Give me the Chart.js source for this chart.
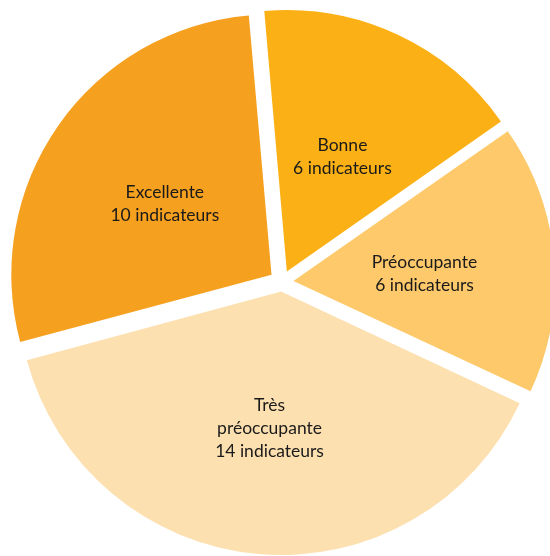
<!DOCTYPE html>
<html>
<head>
<meta charset="utf-8">
<script src="https://cdn.jsdelivr.net/npm/chart.js@4"></script>
<style>
  html, body { margin: 0; padding: 0; background: #fff; }
  #wrap { width: 550px; height: 556px; }
</style>
</head>
<body>
<div id="wrap"><canvas id="pieChart"></canvas></div>
<script>
// ================= DATA =================
const categories = ["Bonne", "Préoccupante", "Très préoccupante", "Excellente"];
const labelLines = [["Bonne"], ["Préoccupante"], ["Très", "préoccupante"], ["Excellente"]];
const counts = [6, 6, 14, 10];
const colors = ["#FBB116", "#FEC96B", "#FDE0B0", "#F6A01F"];

const EXPLODE = 13; // px each slice is pulled out

// Chart.js moves an arc by offset/4 * (1 + (1 - sin(angle))), so work back from the wanted px
function arcOffset(ctx) {
    const total = counts.reduce((a, b) => a + b, 0);
    const circ = counts[ctx.dataIndex] / total * Math.PI * 2;
    const fix = 1 - Math.sin(Math.min(Math.PI, circ));
    return EXPLODE * 4 / (1 + fix);
}

// draws the text inside each slice
const sliceLabels = {
    id: "sliceLabels",
    afterDatasetsDraw(chart) {
        const ctx = chart.ctx;
        const arcs = chart.getDatasetMeta(0).data;
        ctx.save();
        ctx.font = "17.5px Lato, 'Open Sans', sans-serif";
        ctx.fillStyle = "#1a1a1a";
        ctx.textAlign = "center";
        ctx.textBaseline = "middle";
        arcs.forEach((arc, i) => {
            const mid = (arc.startAngle + arc.endAngle) / 2;
            const r = arc.outerRadius * 0.5 + EXPLODE;
            const x = arc.x + Math.cos(mid) * r;
            const y = arc.y + Math.sin(mid) * r + 4;
            const lines = labelLines[i].concat([counts[i] + " indicateurs"]);
            const lh = 23;
            lines.forEach((t, j) => {
                ctx.fillText(t, x, y + (j - (lines.length - 1) / 2) * lh);
            });
        });
        ctx.restore();
    }
};

new Chart(document.getElementById("pieChart"), {
    type: "pie",
    data: {
        labels: categories,
        datasets: [{
            data: counts,
            backgroundColor: colors,
            borderWidth: 0,
            offset: arcOffset,
            clip: false
        }]
    },
    options: {
        responsive: true,
        maintainAspectRatio: false,
        animation: false,
        rotation: -5,
        radius: 260,
        layout: { padding: { left: 14, top: 8, right: 0, bottom: 0 } },
        plugins: {
            legend: { display: false },
            tooltip: { enabled: false }
        }
    },
    plugins: [sliceLabels]
});
</script>
</body>
</html>
